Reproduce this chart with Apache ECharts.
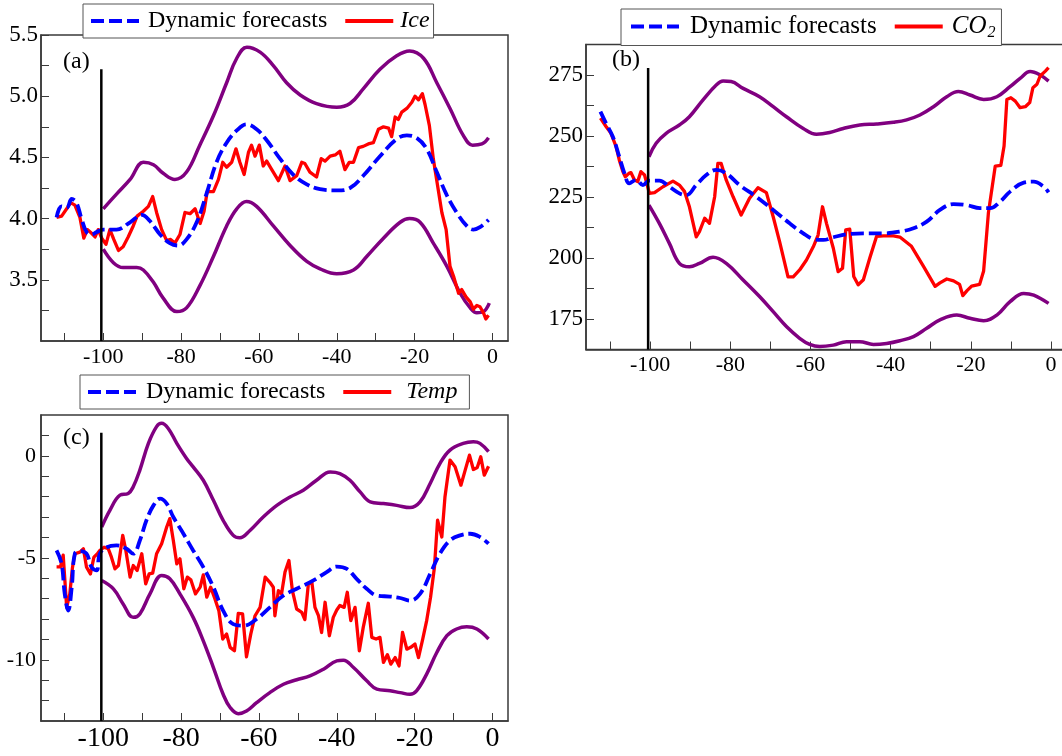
<!DOCTYPE html>
<html><head><meta charset="utf-8">
<script src="https://cdn.jsdelivr.net/npm/echarts@6/dist/echarts.min.js"></script>
<style>html,body{margin:0;padding:0;background:#fff}#c{width:1062px;height:756px}</style>
</head><body><div id="c"></div><script>
const FONT = "'Liberation Serif','Times New Roman',serif";

// ---------- common x axis ----------
const xTickValues = [-110,-100,-90,-80,-70,-60,-50,-40,-30,-20,-10,0];
const xLabelValues = [-100,-80,-60,-40,-20,0];
const forecastStart = -100.5;

// ---------- panel (a) Ice ----------
const iceTicks = [3.25,3.5,3.75,4.0,4.25,4.5,4.75,5.0,5.25,5.5];
const iceLabels = [3.5,4.0,4.5,5.0,5.5];
const iceMarkerTop = 5.22;
const iceUpper = [[-100.0,4.08],[-96.6,4.20],[-93.1,4.32],[-89.7,4.46],[-87.1,4.44],[-84.6,4.37],[-81.6,4.32],[-78.6,4.38],[-75.2,4.60],[-71.7,4.84],[-68.3,5.11],[-65.7,5.31],[-63.1,5.40],[-59.7,5.36],[-56.3,5.25],[-52.9,5.11],[-49.4,5.01],[-45.2,4.94],[-40.0,4.91],[-36.6,4.94],[-33.2,5.06],[-28.9,5.22],[-24.6,5.33],[-21.3,5.37],[-17.7,5.31],[-14.3,5.11],[-10.9,4.90],[-7.5,4.68],[-5.1,4.60],[-2.7,4.61],[-1.0,4.66]];
const iceLower = [[-100.0,3.75],[-97.4,3.64],[-94.9,3.60],[-91.4,3.60],[-89.7,3.58],[-87.1,3.48],[-84.6,3.35],[-81.1,3.24],[-78.6,3.27],[-75.2,3.45],[-71.7,3.69],[-68.3,3.94],[-65.7,4.08],[-63.2,4.14],[-60.6,4.10],[-56.3,3.94],[-52.0,3.78],[-47.7,3.65],[-44.3,3.59],[-40.0,3.55],[-35.7,3.58],[-32.3,3.69],[-28.0,3.84],[-23.7,3.97],[-21.3,4.00],[-18.6,3.97],[-15.2,3.80],[-11.7,3.61],[-8.3,3.39],[-5.7,3.27],[-4.0,3.23],[-2.3,3.24],[-0.8,3.31]];
const iceForecast = [[-112.0,4.01],[-110.7,4.10],[-109.4,4.09],[-108.1,4.16],[-106.9,4.13],[-105.6,4.00],[-104.3,3.89],[-103.0,3.87],[-101.7,3.89],[-100.0,3.91],[-96.6,3.91],[-93.1,3.97],[-90.1,4.03],[-88.0,3.98],[-85.4,3.87],[-82.9,3.80],[-80.7,3.78],[-78.6,3.83],[-76.0,3.97],[-73.4,4.21],[-70.9,4.46],[-68.3,4.62],[-65.7,4.72],[-63.2,4.77],[-60.6,4.73],[-58.0,4.64],[-54.6,4.49],[-51.2,4.36],[-47.7,4.28],[-44.3,4.24],[-40.0,4.23],[-36.6,4.25],[-33.2,4.35],[-28.9,4.51],[-24.6,4.65],[-22.0,4.68],[-19.5,4.66],[-16.9,4.57],[-14.3,4.38],[-11.7,4.19],[-9.2,4.05],[-6.6,3.94],[-4.9,3.91],[-3.2,3.93],[-1.0,3.99]];
const iceObs = [[-112.0,4.01],[-110.7,4.02],[-109.4,4.08],[-108.4,4.13],[-107.3,4.11],[-106.0,4.01],[-105.0,3.84],[-104.1,3.91],[-103.0,3.88],[-102.1,3.85],[-101.3,3.91],[-100.4,3.84],[-99.3,3.79],[-98.3,3.91],[-97.3,3.83],[-96.1,3.74],[-94.9,3.77],[-93.6,3.85],[-92.3,3.94],[-91.3,4.02],[-89.7,4.06],[-88.4,4.10],[-87.3,4.18],[-86.3,4.05],[-85.0,3.91],[-83.7,3.82],[-82.7,3.83],[-81.6,3.80],[-80.3,3.87],[-79.0,4.05],[-77.7,4.04],[-76.4,4.08],[-75.1,3.96],[-74.1,4.06],[-73.3,4.22],[-71.7,4.22],[-70.4,4.32],[-69.3,4.46],[-68.3,4.42],[-67.0,4.46],[-65.9,4.57],[-64.9,4.46],[-63.8,4.36],[-62.7,4.54],[-61.9,4.60],[-61.0,4.51],[-59.9,4.60],[-58.9,4.43],[-58.0,4.47],[-56.7,4.40],[-55.0,4.31],[-53.3,4.43],[-52.0,4.31],[-50.3,4.35],[-49.0,4.46],[-48.2,4.45],[-46.9,4.38],[-45.2,4.34],[-44.0,4.49],[-43.0,4.47],[-41.7,4.51],[-40.4,4.52],[-39.2,4.55],[-37.9,4.40],[-36.8,4.46],[-35.7,4.46],[-34.4,4.58],[-33.2,4.59],[-31.9,4.61],[-30.6,4.62],[-29.3,4.73],[-28.0,4.75],[-26.7,4.74],[-25.9,4.67],[-25.0,4.83],[-24.2,4.81],[-23.3,4.87],[-22.0,4.90],[-20.7,4.95],[-19.9,5.00],[-19.0,4.97],[-18.0,5.02],[-17.3,4.93],[-16.2,4.76],[-15.2,4.49],[-14.1,4.27],[-13.0,4.05],[-11.9,3.91],[-10.9,3.61],[-9.9,3.52],[-8.7,3.39],[-7.9,3.42],[-6.8,3.36],[-5.7,3.32],[-4.9,3.26],[-4.0,3.29],[-3.2,3.28],[-2.3,3.23],[-1.7,3.18],[-1.0,3.21]];

// ---------- panel (b) CO2 ----------
const co2Ticks = [175,187.5,200,212.5,225,237.5,250,262.5,275,287.5];
const co2Labels = [175,200,225,250,275];
const co2MarkerTop = 277.9;
const co2Upper = [[-100.3,241.5],[-98.5,247.0],[-96.0,251.1],[-92.7,254.5],[-90.2,257.9],[-86.8,264.8],[-83.5,270.9],[-81.8,272.5],[-79.8,272.3],[-76.8,269.5],[-72.7,266.1],[-69.3,262.0],[-66.0,257.9],[-61.8,253.1],[-58.5,250.7],[-55.2,251.4],[-51.8,253.1],[-47.7,254.5],[-43.5,254.9],[-39.3,255.6],[-36.0,256.6],[-32.7,258.6],[-29.3,262.0],[-26.0,266.1],[-23.1,268.2],[-20.2,266.8],[-16.8,265.0],[-13.5,266.1],[-10.2,270.2],[-7.7,273.6],[-5.2,276.4],[-2.7,275.0],[-0.6,272.5]];
const co2Lower = [[-100.3,221.7],[-97.7,214.2],[-95.2,206.0],[-92.7,197.8],[-90.2,196.4],[-87.7,197.8],[-84.3,200.3],[-81.0,197.8],[-76.8,191.0],[-72.7,184.2],[-69.3,178.0],[-66.0,171.9],[-62.7,167.1],[-60.2,164.6],[-57.7,163.7],[-54.3,164.3],[-51.0,165.7],[-47.7,165.7],[-44.3,164.6],[-41.0,165.0],[-37.7,166.1],[-34.3,167.8],[-31.0,171.2],[-27.7,174.6],[-23.5,176.6],[-20.2,175.3],[-16.8,174.3],[-13.5,176.6],[-10.2,182.1],[-6.8,185.5],[-4.3,184.8],[-0.6,181.4]];
const co2Forecast = [[-112.4,260.0],[-111.0,255.2],[-109.3,249.7],[-107.7,241.5],[-106.4,234.7],[-105.2,230.6],[-103.5,232.0],[-101.8,229.9],[-100.2,231.7],[-97.7,231.7],[-95.2,229.2],[-92.7,226.5],[-91.0,225.8],[-88.5,229.9],[-86.0,234.0],[-83.5,236.1],[-81.0,234.7],[-77.7,229.9],[-73.5,225.1],[-69.3,219.7],[-65.2,214.2],[-61.8,210.1],[-59.3,207.8],[-56.8,207.4],[-54.3,208.5],[-51.0,209.7],[-46.8,210.1],[-41.8,210.1],[-37.7,210.8],[-34.3,212.2],[-31.0,214.9],[-27.7,219.7],[-24.3,222.1],[-21.0,221.7],[-17.7,220.4],[-15.2,220.4],[-12.7,223.1],[-10.2,227.2],[-6.8,230.9],[-4.3,231.3],[-1.8,229.2],[-0.6,226.9]];
const co2Obs = [[-112.4,257.3],[-111.0,253.9],[-109.8,251.2],[-108.5,245.7],[-107.7,240.2],[-106.8,235.4],[-106.2,233.3],[-105.3,234.7],[-104.8,235.0],[-103.9,232.0],[-103.1,231.3],[-102.3,235.4],[-101.4,234.0],[-100.6,229.2],[-100.2,226.5],[-98.9,226.8],[-96.8,229.2],[-94.3,231.5],[-92.7,229.9],[-91.4,227.2],[-90.2,221.0],[-88.5,208.7],[-87.7,210.8],[-86.4,216.3],[-85.2,214.2],[-83.9,225.1],[-83.1,238.8],[-82.3,238.8],[-81.0,231.9],[-79.3,225.1],[-77.3,217.6],[-75.2,224.5],[-73.1,228.8],[-71.0,226.8],[-69.3,216.9],[-67.7,206.7],[-65.6,192.3],[-64.3,192.3],[-62.7,195.1],[-61.0,199.2],[-59.3,204.6],[-58.1,209.4],[-57.0,221.0],[-56.0,214.2],[-54.3,204.0],[-53.1,194.4],[-52.0,195.8],[-51.2,211.5],[-50.2,211.8],[-49.2,192.4],[-48.1,189.0],[-46.8,191.1],[-45.2,200.0],[-43.5,208.9],[-41.8,209.1],[-39.3,209.1],[-37.7,208.6],[-34.8,204.8],[-31.8,196.6],[-28.9,188.4],[-27.7,189.8],[-26.0,191.4],[-24.3,190.6],[-22.8,189.2],[-22.0,184.6],[-21.0,186.5],[-19.8,188.5],[-17.8,189.2],[-16.8,194.7],[-15.6,218.6],[-13.9,237.7],[-12.5,238.0],[-11.7,245.9],[-11.0,265.0],[-10.0,265.7],[-8.9,264.3],[-7.7,261.6],[-6.4,262.0],[-5.3,263.7],[-4.5,269.8],[-3.5,271.2],[-2.7,274.6],[-1.4,276.6],[-0.6,278.0]];

// ---------- panel (c) Temp ----------
const tempTicks = [-12,-11,-10,-9,-8,-7,-6,-5,-4,-3,-2,-1,0,1];
const tempLabels = [-10,-5,0];
const tempMarkerTop = 1.13;
const tempUpper = [[-100.4,-3.49],[-98.3,-2.67],[-95.7,-1.93],[-93.6,-1.85],[-92.3,-1.52],[-90.6,-0.70],[-88.4,0.61],[-86.3,1.43],[-85.0,1.59],[-83.3,1.34],[-81.1,0.61],[-78.6,-0.13],[-76.9,-0.54],[-74.3,-1.20],[-71.7,-2.18],[-69.2,-3.16],[-66.6,-3.90],[-64.9,-4.02],[-62.3,-3.66],[-58.9,-3.00],[-55.4,-2.43],[-52.0,-2.02],[-48.6,-1.69],[-45.2,-1.20],[-41.7,-0.79],[-39.2,-0.87],[-36.6,-1.20],[-34.0,-1.77],[-31.4,-2.26],[-28.0,-2.34],[-24.6,-2.43],[-21.2,-2.54],[-18.6,-2.26],[-16.0,-1.36],[-13.5,-0.38],[-10.9,0.28],[-7.5,0.61],[-4.9,0.69],[-3.2,0.61],[-1.0,0.20]];
const tempLower = [[-100.4,-6.11],[-97.4,-6.52],[-94.9,-7.26],[-92.3,-7.92],[-90.6,-7.75],[-88.0,-6.77],[-85.0,-5.87],[-82.9,-6.03],[-80.3,-6.77],[-76.9,-7.92],[-74.3,-9.07],[-71.7,-10.38],[-69.2,-11.69],[-67.4,-12.34],[-65.3,-12.64],[-63.2,-12.51],[-60.6,-12.10],[-57.2,-11.61],[-53.7,-11.20],[-50.3,-10.98],[-46.9,-10.79],[-43.4,-10.46],[-40.0,-10.05],[-38.3,-10.02],[-35.7,-10.38],[-32.3,-11.03],[-29.7,-11.44],[-26.3,-11.52],[-23.7,-11.61],[-21.2,-11.69],[-19.5,-11.52],[-16.9,-10.70],[-14.3,-9.64],[-11.7,-8.82],[-9.2,-8.49],[-6.6,-8.38],[-4.0,-8.49],[-1.0,-8.98]];
const tempForecast = [[-112.0,-4.64],[-110.7,-5.30],[-109.9,-6.77],[-109.0,-7.59],[-108.1,-6.44],[-107.3,-4.80],[-106.0,-4.67],[-104.3,-4.80],[-103.0,-5.46],[-101.7,-5.62],[-100.9,-4.80],[-99.1,-4.48],[-96.6,-4.39],[-94.0,-4.56],[-92.3,-4.80],[-90.6,-4.15],[-88.9,-3.16],[-87.1,-2.43],[-85.4,-2.10],[-83.7,-2.34],[-82.0,-3.00],[-79.4,-3.82],[-76.9,-4.64],[-74.3,-5.46],[-71.7,-6.44],[-69.2,-7.59],[-66.6,-8.25],[-64.0,-8.33],[-60.6,-8.00],[-57.2,-7.43],[-53.7,-6.85],[-50.3,-6.52],[-46.0,-6.11],[-42.6,-5.70],[-40.0,-5.43],[-37.4,-5.54],[-34.9,-6.03],[-32.3,-6.52],[-29.7,-6.85],[-26.3,-6.90],[-23.7,-6.97],[-21.2,-7.10],[-18.6,-6.77],[-16.0,-5.79],[-13.5,-4.80],[-10.9,-4.15],[-8.3,-3.90],[-5.7,-3.82],[-3.2,-3.98],[-1.0,-4.31]];
const tempObs = [[-112.0,-5.44],[-111.0,-5.44],[-110.3,-4.87],[-109.4,-7.43],[-108.6,-6.77],[-107.9,-5.46],[-107.3,-4.80],[-106.0,-4.72],[-105.1,-4.56],[-104.3,-5.46],[-103.3,-5.79],[-102.4,-4.97],[-101.5,-4.80],[-100.9,-4.64],[-99.8,-4.48],[-98.7,-4.56],[-97.9,-4.97],[-97.0,-5.54],[-96.1,-5.38],[-95.0,-3.90],[-94.2,-4.64],[-93.1,-5.95],[-92.3,-5.38],[-91.3,-5.62],[-90.1,-4.80],[-89.1,-6.28],[-88.2,-5.79],[-87.3,-5.75],[-86.3,-4.80],[-85.0,-4.31],[-83.7,-3.49],[-82.9,-3.08],[-82.0,-4.15],[-81.1,-5.30],[-80.3,-5.05],[-79.3,-6.52],[-78.4,-5.95],[-77.5,-6.08],[-76.3,-6.77],[-75.1,-6.44],[-74.3,-5.84],[-73.4,-6.93],[-72.4,-6.44],[-71.3,-7.02],[-70.3,-7.59],[-69.3,-8.98],[-68.3,-8.74],[-67.4,-9.39],[-66.3,-9.56],[-65.3,-7.72],[-64.2,-7.75],[-63.2,-9.85],[-62.1,-8.74],[-61.0,-7.84],[-59.7,-7.43],[-58.4,-5.95],[-57.2,-6.20],[-56.3,-6.44],[-55.9,-7.84],[-55.0,-6.61],[-54.2,-6.77],[-53.3,-5.70],[-52.3,-5.13],[-51.4,-6.61],[-50.3,-7.51],[-49.0,-7.67],[-48.2,-8.03],[-47.3,-6.28],[-46.4,-6.20],[-45.6,-7.43],[-44.7,-7.84],[-43.9,-8.66],[-43.0,-7.18],[-41.9,-8.82],[-40.9,-7.92],[-40.0,-7.56],[-39.2,-7.34],[-38.1,-7.43],[-37.3,-6.69],[-36.4,-8.08],[-35.3,-7.43],[-34.2,-9.56],[-33.2,-8.41],[-31.9,-7.23],[-31.0,-8.90],[-29.9,-8.98],[-28.9,-8.90],[-28.0,-10.13],[-27.0,-9.75],[-26.1,-10.21],[-25.0,-9.89],[-24.0,-10.30],[-23.1,-8.66],[-22.0,-9.48],[-21.0,-9.39],[-19.9,-9.23],[-19.0,-9.89],[-17.9,-8.98],[-16.9,-8.08],[-15.9,-6.93],[-14.9,-5.46],[-14.1,-3.16],[-13.0,-3.98],[-12.2,-2.02],[-10.9,-0.21],[-9.6,-0.54],[-8.1,-1.44],[-7.0,-0.70],[-5.9,0.03],[-4.9,-0.67],[-3.9,-0.57],[-3.0,-0.05],[-2.1,-0.95],[-1.0,-0.51]];

// ---------- build ----------
const AXIS_COLOR = '#3a3a3a';
const panels = [
  {name:'Ice', grid:{left:41, top:35, width:467, height:306}, ymin:3.0, ymax:5.5, yTicks:iceTicks, yLabels:iceLabels, yFmt:v=>v.toFixed(1), yFont:23, yMargin:3, xFont:22, xMargin:5,
   upper:iceUpper, lower:iceLower, fc:iceForecast, obs:iceObs, top:iceMarkerTop,
   legend:{left:83, top:4, font:24, padL:6, padR:4, textGap:4, nameGap:2}, tag:{text:'(a)', x:63, y:50}},
  {name:'CO2', grid:{left:586, top:44.5, width:481, height:305}, ymin:162.5, ymax:287.5, yTicks:co2Ticks, yLabels:co2Labels, yFmt:v=>String(v), yFont:23, yMargin:3, xFont:22, xMargin:5,
   upper:co2Upper, lower:co2Lower, fc:co2Forecast, obs:co2Obs, top:co2MarkerTop,
   legend:{left:621, top:9, font:25, padL:8, padR:6, textGap:6, nameGap:4}, tag:{text:'(b)', x:612, y:48}},
  {name:'Temp', grid:{left:41, top:415, width:467, height:306}, ymin:-13, ymax:2, yTicks:tempTicks, yLabels:tempLabels, yFmt:v=>String(v), yFont:22, yMargin:5, xFont:28, xMargin:4,
   upper:tempUpper, lower:tempLower, fc:tempForecast, obs:tempObs, top:tempMarkerTop,
   legend:{left:80, top:375, font:24, padL:6, padR:12, textGap:5, nameGap:10}, tag:{text:'(c)', x:63, y:426}}
];

const grid=[], xAxis=[], yAxis=[], series=[], legend=[], graphic=[];
panels.forEach((p,i)=>{
  grid.push(Object.assign({show:true, borderColor:AXIS_COLOR, borderWidth:1.5, backgroundColor:'transparent', containLabel:false, outerBoundsMode:'none'}, p.grid));
  xAxis.push({type:'value', gridIndex:i, min:-116, max:4,
    axisLine:{show:true, onZero:false, lineStyle:{color:AXIS_COLOR, width:1.5}},
    axisTick:{show:true, inside:true, length:8, customValues:xTickValues, lineStyle:{color:AXIS_COLOR, width:1}},
    axisLabel:{show:true, customValues:xLabelValues, fontFamily:FONT, fontSize:p.xFont, color:'#000', margin:p.xMargin},
    splitLine:{show:false}});
  yAxis.push({type:'value', gridIndex:i, min:p.ymin, max:p.ymax,
    axisLine:{show:true, onZero:false, lineStyle:{color:AXIS_COLOR, width:1.5}},
    axisTick:{show:true, inside:true, length:8, customValues:p.yTicks, lineStyle:{color:AXIS_COLOR, width:1}},
    axisLabel:{show:true, customValues:p.yLabels, formatter:p.yFmt, fontFamily:FONT, fontSize:p.yFont, color:'#000', margin:p.yMargin},
    splitLine:{show:false}});
  const common = {type:'line', xAxisIndex:i, yAxisIndex:i, showSymbol:false, symbol:'none', animation:false, silent:true};
  series.push(Object.assign({}, common, {name:'upper'+i, data:p.upper, smooth:0.4, lineStyle:{color:'#800080', width:3.5}, itemStyle:{color:'#800080'}}));
  series.push(Object.assign({}, common, {name:'lower'+i, data:p.lower, smooth:0.4, lineStyle:{color:'#800080', width:3.5}, itemStyle:{color:'#800080'}}));
  series.push(Object.assign({}, common, {name:p.name, data:p.obs, lineStyle:{color:'#ff0000', width:3.3, join:'round'}, itemStyle:{color:'#ff0000'}}));
  series.push(Object.assign({}, common, {name:'Dynamic forecasts', data:p.fc, smooth:0.4, lineStyle:{color:'#0000ff', width:3.8, type:[13,5]}, itemStyle:{color:'#0000ff'}}));
  series.push(Object.assign({}, common, {name:'start'+i, data:[[forecastStart, p.top],[forecastStart, p.ymin]], lineStyle:{color:'#000', width:2.5}, itemStyle:{color:'#000'}}));
  const L = p.legend;
  legend.push({show:true, left:L.left, top:L.top, orient:'horizontal',
    data:[{name:'Dynamic forecasts'}, {name:p.name, textStyle:{padding:[0,0,0,L.nameGap]}}],
    itemWidth:48, itemHeight:14, itemGap:16,
    padding:[5,L.padR,5,L.padL], borderColor:'#555', borderWidth:1, backgroundColor:'#fff', selectedMode:false,
    itemStyle:{color:'rgba(0,0,0,0)', borderColor:'rgba(0,0,0,0)', borderWidth:0, opacity:0},
    lineStyle:{width:4},
    formatter: n => n==='Dynamic forecasts' ? n : (n==='CO2' ? '{it|CO}{sub|2}' : '{it|'+n+'}'),
    textStyle:{fontFamily:FONT, fontSize:L.font, color:'#000', padding:[0,0,0,L.textGap],
      rich:{it:{fontFamily:FONT, fontSize:L.font, fontStyle:'italic', color:'#000'},
            sub:{fontFamily:FONT, fontSize:16, fontStyle:'italic', color:'#000', padding:[12,0,0,1]}}}});
  graphic.push({type:'text', left:p.tag.x, top:p.tag.y, z:10, style:{text:p.tag.text, font:'24px '+FONT, fill:'#000'}});
});

const chart = echarts.init(document.getElementById('c'), null, {renderer:'canvas'});
chart.setOption({animation:false, backgroundColor:'#fff', grid, xAxis, yAxis, series, legend, graphic});
</script></body></html>
